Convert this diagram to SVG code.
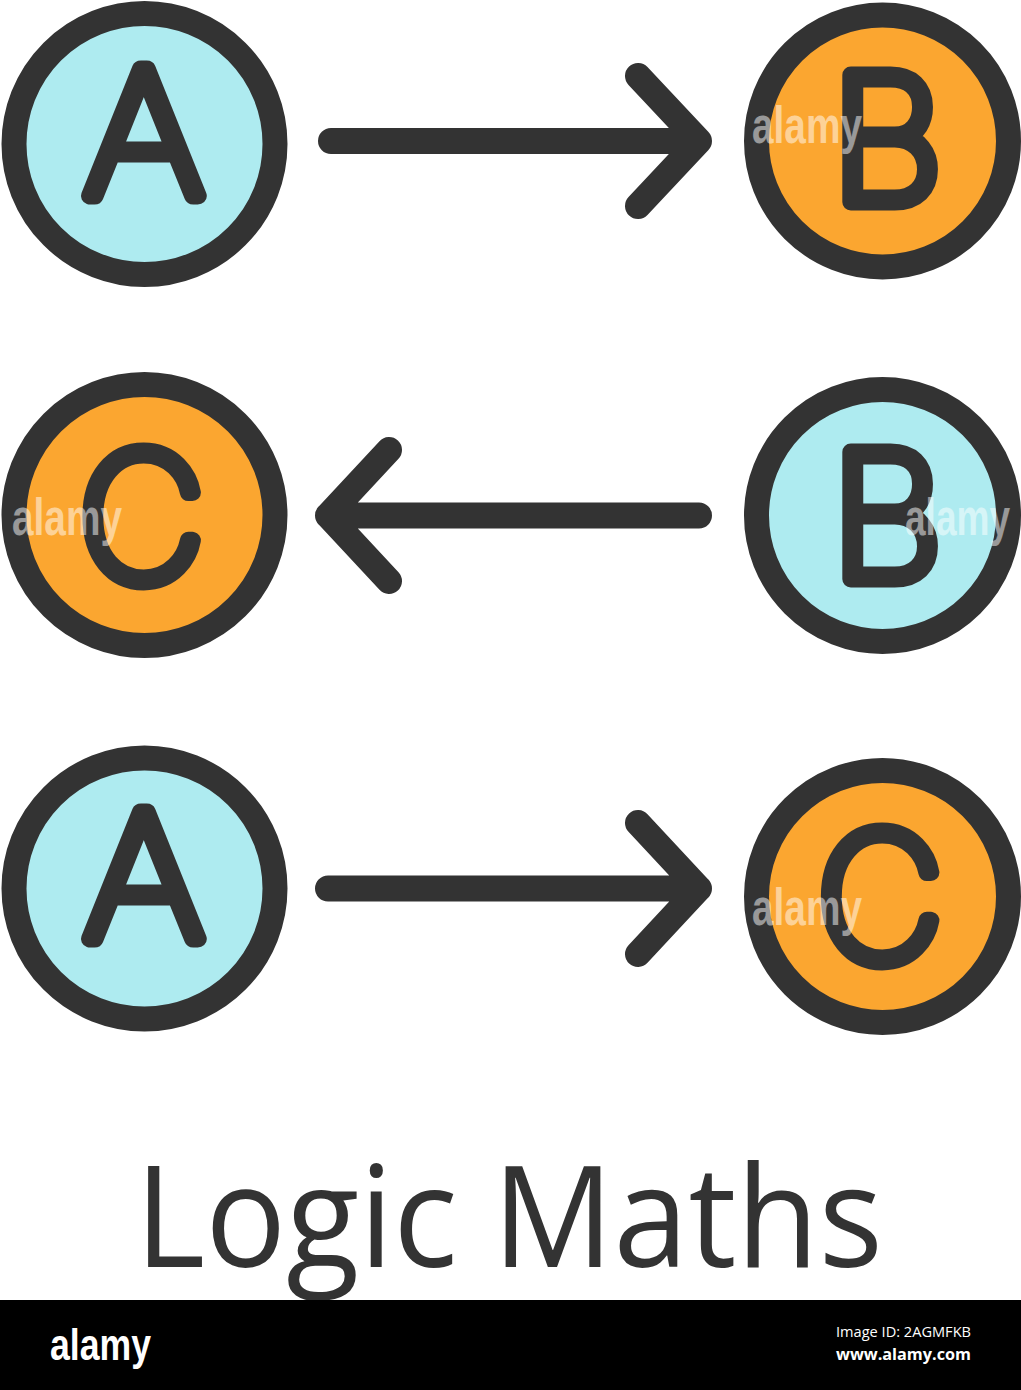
<svg xmlns="http://www.w3.org/2000/svg" width="1021" height="1390" viewBox="0 0 1021 1390">
<style>
.ring{stroke:#333333;stroke-width:25}
.blue{fill:#aeebf0}
.orange{fill:#fba630}
.letter{font-family:Inter,"Noto Sans",sans-serif;font-weight:100;font-size:175px;fill:#333333;stroke:#333333;stroke-width:17;stroke-linejoin:round;stroke-linecap:round;text-anchor:middle}
.conn{fill:none;stroke:#333333;stroke-width:26;stroke-linecap:round;stroke-linejoin:round}
.wm{font-family:"Liberation Sans",sans-serif;font-weight:bold;fill:#ffffff;fill-opacity:0.5}
</style>
<rect width="1021" height="1390" fill="#ffffff"/>
<g id="node-a-top">
<circle class="ring blue" cx="144.5" cy="144" r="130.5"/>
<text class="letter" x="144" y="196.5" transform="translate(144 0) scale(1.07 1) translate(-144 0)">A</text>
</g>
<g id="node-b-top">
<circle class="ring orange" cx="882.5" cy="141" r="126"/>
<text class="letter" x="887" y="201.5">B</text>
</g>
<g id="node-c-mid">
<circle class="ring orange" cx="144.5" cy="515" r="130.5"/>
<text class="letter" x="141.5" y="579.5">C</text>
</g>
<g id="node-b-mid">
<circle class="ring blue" cx="882.5" cy="515.5" r="126"/>
<text class="letter" x="887" y="578.5">B</text>
</g>
<g id="node-a-bottom">
<circle class="ring blue" cx="144.5" cy="888.5" r="130.5"/>
<text class="letter" x="144" y="939.5" transform="translate(144 0) scale(1.07 1) translate(-144 0)">A</text>
</g>
<g id="node-c-bottom">
<circle class="ring orange" cx="882.5" cy="896.5" r="126"/>
<text class="letter" x="880" y="959.5">C</text>
</g>
<g id="connectors">
<path class="conn" d="M331 141 H699 M638 76 L699 141 L638 206"/>
<path class="conn" d="M699 515.5 H328 M389 450 L328 515.5 L389 581"/>
<path class="conn" d="M328 888.5 H699 M638 823 L699 888.5 L638 954"/>
</g>
<g id="watermarks">
<text class="wm" x="752" y="143" font-size="52" textLength="110" lengthAdjust="spacingAndGlyphs">alamy</text>
<text class="wm" x="12" y="535" font-size="52" textLength="110" lengthAdjust="spacingAndGlyphs">alamy</text>
<text class="wm" x="905" y="535" font-size="52" textLength="105" lengthAdjust="spacingAndGlyphs">alamy</text>
<text class="wm" x="752" y="925" font-size="52" textLength="110" lengthAdjust="spacingAndGlyphs">alamy</text>
</g>
<text x="135" y="1267" font-family="'Open Sans','Liberation Sans',sans-serif" font-size="141" fill="#333333" textLength="748" lengthAdjust="spacingAndGlyphs">Logic Maths</text>
<g id="footer">
<rect x="0" y="1300" width="1021" height="90" fill="#000000"/>
<text x="50" y="1360" font-family="'Liberation Sans',sans-serif" font-weight="bold" font-size="45" fill="#ffffff" textLength="101" lengthAdjust="spacingAndGlyphs">alamy</text>
<text x="836" y="1337" font-family="'Open Sans','Noto Sans',sans-serif" font-size="14.5" fill="#ffffff" textLength="135" lengthAdjust="spacingAndGlyphs">Image ID: 2AGMFKB</text>
<text x="836" y="1360" font-family="'Open Sans','Noto Sans',sans-serif" font-weight="bold" font-size="16" fill="#ffffff" textLength="135" lengthAdjust="spacingAndGlyphs">www.alamy.com</text>
</g>
</svg>
